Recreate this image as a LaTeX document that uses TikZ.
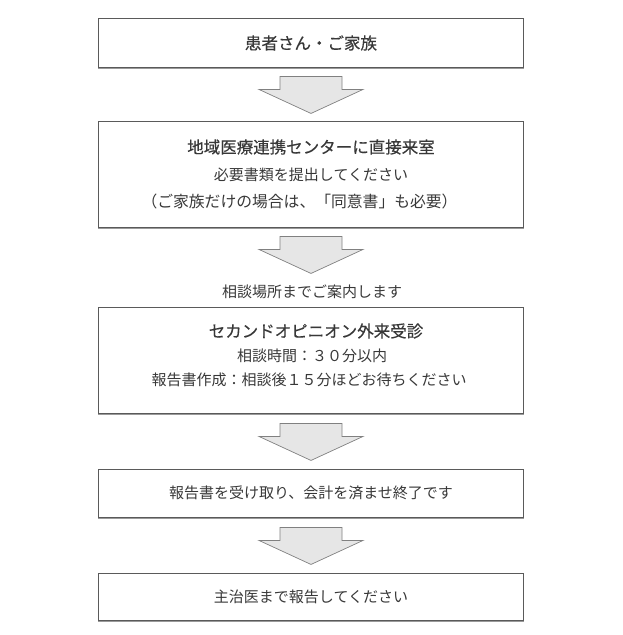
\documentclass[tikz,border=0pt]{standalone}
\usepackage{fontspec}
\setmainfont{Noto Sans CJK JP}
\newfontfamily\jpb[FakeBold=0.4]{Noto Sans CJK JP}
\usetikzlibrary{calc}
\definecolor{txt}{HTML}{383838}
\definecolor{boxline}{HTML}{5A5A5A}
\definecolor{shadowline}{HTML}{9A9A9A}
\definecolor{arrfill}{HTML}{E6E6E6}
\definecolor{arrline}{HTML}{808080}
\tikzset{
  flowbox/.style={draw=boxline, line width=0.9pt, minimum width=425pt, inner sep=0pt, text=txt, font=\fontsize{15pt}{18pt}\selectfont},
  titletext/.style={text=txt, inner sep=0pt, font=\jpb\fontsize{16.5pt}{20pt}\selectfont},
  bodytext/.style={text=txt, inner sep=0pt, font=\fontsize{15pt}{18pt}\selectfont},
  downarrow/.pic={
    \draw[draw=arrline, fill=arrfill, line width=0.7pt, line join=miter]
      (-31,0) -- (31,0) -- (31,13) -- (52,13) -- (0,37) -- (-52,13) -- (-31,13) -- cycle;
  }
}
\begin{document}
\begin{tikzpicture}[x=1pt, y=-1pt]
\useasboundingbox (0,0) rectangle (622,635);
% boxes
\node[flowbox, minimum height=49pt] (b1) at (310.5,42.5) {};
\node[flowbox, minimum height=106pt] (b2) at (310.5,174) {};
\node[flowbox, minimum height=106pt] (b3) at (310.5,360) {};
\node[flowbox, minimum height=48pt] (b4) at (310.5,493) {};
\node[flowbox, minimum height=47pt] (b5) at (310.5,596.5) {};
% bottom shadow lines
\foreach \b in {b1,b2,b3,b4,b5}{
  \draw[shadowline, line width=1.4pt] ($(\b.south west)+(0.5,1)$) -- ($(\b.south east)+(0.5,1)$);
}
% texts
\node[titletext] (t1) at (311,43) {患者さん・ご家族};
\node[titletext] (t2a) at (311,147) {地域医療連携センターに直接来室};
\node[bodytext] (t2b) at (311,175) {必要書類を提出してください};
\node[bodytext, font=\fontsize{15.8pt}{18pt}\selectfont] (t2c) at (299.5,201) {（ご家族だけの場合は、「同意書」も必要）};
\node[bodytext] (lbl) at (312,292) {相談場所までご案内します};
\node[titletext] (t3a) at (316,331) {セカンドオピニオン外来受診};
\node[bodytext] (t3b) at (312,356) {相談時間：３０分以内};
\node[bodytext] (t3c) at (309,380) {報告書作成：相談後１５分ほどお待ちください};
\node[bodytext] (t4) at (311,493) {報告書を受け取り、会計を済ませ終了です};
\node[bodytext] (t5) at (311,596.5) {主治医まで報告してください};
% arrows
\pic at ($(b1.south)+(0.5,9)$) {downarrow};
\pic at ($(b2.south)+(0.5,9)$) {downarrow};
\pic at ($(b3.south)+(0.5,10)$) {downarrow};
\pic at ($(b4.south)+(0.5,10)$) {downarrow};
\end{tikzpicture}
\end{document}
